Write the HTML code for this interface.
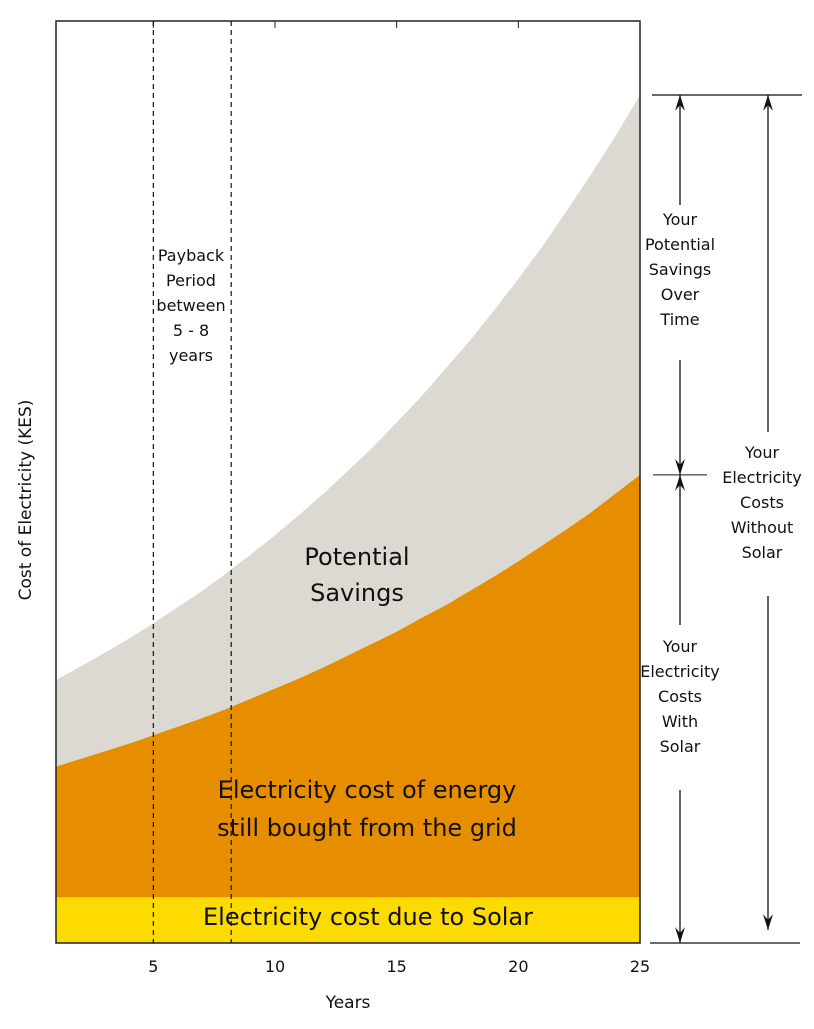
<!DOCTYPE html>
<html><head><meta charset="utf-8"><style>
html,body{margin:0;padding:0;background:#fff;}
svg text{font-family:"DejaVu Sans","Liberation Sans",sans-serif;fill:#111;}
</style></head><body>
<svg id="chart" width="814" height="1024" viewBox="0 0 814 1024" xmlns="http://www.w3.org/2000/svg">
<g id="areas"></g>
<g id="overlay"></g>
</svg>
<script>
const years=[1,2,3,4,5,6,7,8,9,10,11,12,13,14,15,16,17,18,19,20,21,22,23,24,25];
const costWithoutSolar=[31,32.6,34.2,35.9,37.7,39.6,41.5,43.6,45.8,48.1,50.5,53,55.7,58.4,61.4,64.4,67.7,71,74.6,78.3,82.2,86.4,90.7,95.2,100];
const costWithSolar=[20.8,21.7,22.6,23.5,24.5,25.5,26.5,27.6,28.8,30,31.2,32.5,33.9,35.3,36.7,38.3,39.8,41.5,43.2,45,46.9,48.8,50.8,53,55.2];
const solarCost=[5.4,5.4,5.4,5.4,5.4,5.4,5.4,5.4,5.4,5.4,5.4,5.4,5.4,5.4,5.4,5.4,5.4,5.4,5.4,5.4,5.4,5.4,5.4,5.4,5.4];
const xTicks=[5,10,15,20,25];
const paybackYears=[5,8.2];

const NS="http://www.w3.org/2000/svg";
const X0=56,X1=640,Y0=943,YTOP=95;
const xs=v=>X0+(v-1)/(25-1)*(X1-X0);
const ys=v=>Y0-v/100*(Y0-YTOP);
function mk(tag,attrs,parent,text){const e=document.createElementNS(NS,tag);for(const k in attrs)e.setAttribute(k,attrs[k]);if(text!==undefined)e.textContent=text;parent.appendChild(e);return e;}
const areas=document.getElementById('areas');
const ov=document.getElementById('overlay');
function areaPath(top){let d='M'+xs(years[0])+','+Y0;years.forEach((y,i)=>{d+=' L'+xs(y)+','+ys(top[i]);});d+=' L'+xs(years[years.length-1])+','+Y0+' Z';return d;}
let p;
p=mk('path',{d:areaPath(costWithoutSolar),fill:'#dcd9d3'},areas);


p=mk('path',{d:areaPath(costWithSolar),fill:'#e68e00'},areas);


p=mk('path',{d:areaPath(solarCost),fill:'#fddb00'},areas);



// frame
p=mk('rect',{x:X0,y:21,width:X1-X0,height:Y0-21,fill:'none',stroke:'#222','stroke-width':1.5},ov);


// top ticks
xTicks.forEach(t=>{const l=mk('line',{x1:xs(t),x2:xs(t),y1:21,y2:28,stroke:'#222'},ov);


const tx=mk('text',{x:xs(t),y:972,'text-anchor':'middle','font-size':16},ov,String(t));

});
paybackYears.forEach(t=>{const l=mk('line',{x1:xs(t),x2:xs(t),y1:21,y2:Y0,stroke:'#111','stroke-dasharray':'5,4','stroke-width':1.2},ov);

});

function label(lines,cx,y0,dy,size,name){const t=mk('text',{x:cx,y:y0,'text-anchor':'middle','font-size':size},ov);


lines.forEach((s,i)=>{mk('tspan',{x:cx,y:y0+i*dy},t,s);});}
label(['Payback','Period','between','5 - 8','years'],191,261,25,16,'payback-label');
label(['Potential','Savings'],357,565,36,24,'potential-savings-label');
label(['Electricity cost of energy','still bought from the grid'],367,798,38,24,'grid-cost-label');
label(['Electricity cost due to Solar'],368,925,0,24,'solar-cost-label');
label(['Your','Potential','Savings','Over','Time'],680,225,25,16,'savings-over-time-label');
label(['Your','Electricity','Costs','Without','Solar'],762,458,25,16,'costs-without-solar-label');
label(['Your','Electricity','Costs','With','Solar'],680,652,25,16,'costs-with-solar-label');
let t=mk('text',{x:348,y:1008,'text-anchor':'middle','font-size':17},ov,'Years');


t=mk('text',{x:0,y:0,'text-anchor':'middle','font-size':17,transform:'translate(31,500) rotate(-90)'},ov,'Cost of Electricity (KES)');



// right annotations
function line(x1,y1,x2,y2,name,w){const l=mk('line',{x1,y1,x2,y2,stroke:'#111','stroke-width':w||1.3},ov);

}
function head(x,y,dir){const d=dir>0?`M${x-5},${y-16} L${x},${y} L${x+5},${y-16} L${x},${y-10} Z`:`M${x-5},${y+16} L${x},${y} L${x+5},${y+16} L${x},${y+10} Z`;
const h=mk('path',{d,fill:'#111'},ov);

}
const yTop=ys(costWithoutSolar[24]),yMid=ys(costWithSolar[24]);
line(652,yTop,802,yTop,'top-bracket-line');
line(650,Y0,800,Y0,'bottom-bracket-line');
line(653,yMid,707,yMid,'mid-bracket-line',1);
line(680,yTop,680,205,'savings-arrow-up');head(680,yTop,-1);
line(680,360,680,yMid,'savings-arrow-down');head(680,yMid,1);
line(680,yMid,680,625,'with-solar-arrow-up');head(680,yMid,-1);
line(680,790,680,Y0,'with-solar-arrow-down');head(680,Y0,1);
line(768,yTop,768,432,'without-solar-arrow-up');head(768,yTop,-1);
line(768,596,768,930,'without-solar-arrow-down');head(768,930,1);
</script>
</body></html>
